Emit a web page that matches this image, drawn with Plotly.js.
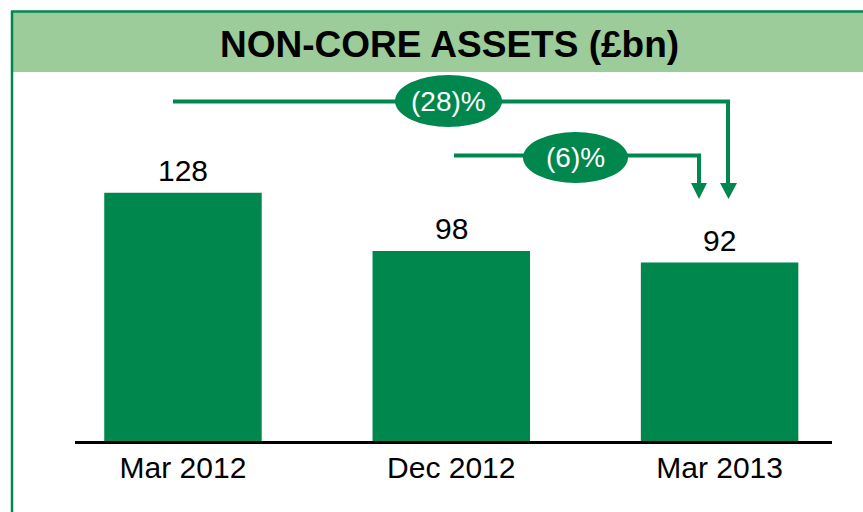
<!DOCTYPE html>
<html>
<head>
<meta charset="utf-8">
<script src="https://cdn.plot.ly/plotly-3.0.1.min.js"></script>
<style>
html,body{margin:0;padding:0;background:#fff;}
#chart{width:863px;height:512px;}
</style>
</head>
<body>
<div id="chart"></div>
<script>
const categories = ["Mar 2012", "Dec 2012", "Mar 2013"];
const values = [128, 98, 92];
const changeLabels = ["(28)%", "(6)%"];
const chartTitle = "NON-CORE ASSETS (£bn)";

const DARK = "#00874E";
const LIGHT = "#9ccc99";
const FONT = "Liberation Sans, Arial, sans-serif";

const W = 863, H = 512;
const L = 75, R = 31, T = 72, B = 71;
const pw = W - L - R, ph = H - T - B;
const px = v => (v - L) / pw;
const py = v => (H - B - v) / ph;

const shapes = [];
// title band
shapes.push({type:"rect", xref:"paper", yref:"paper", x0:px(12), x1:px(880), y0:py(72), y1:py(11),
  fillcolor:LIGHT, line:{width:0}, layer:"below"});
// border
shapes.push({type:"line", xref:"paper", yref:"paper", x0:px(12), x1:px(12), y0:py(11), y1:py(530),
  line:{color:DARK, width:2.5}});
shapes.push({type:"line", xref:"paper", yref:"paper", x0:px(11), x1:px(880), y0:py(11.5), y1:py(11.5),
  line:{color:DARK, width:2.5}});
// axis line
shapes.push({type:"line", xref:"paper", yref:"paper", x0:0, x1:1, y0:py(442.5), y1:py(442.5),
  line:{color:"#000", width:3}});

// (28)% connector
shapes.push({type:"path", xref:"paper", yref:"paper",
  path:`M ${px(173)} ${py(101.5)} L ${px(728)} ${py(101.5)} L ${px(728)} ${py(186)}`,
  line:{color:DARK, width:4}});
shapes.push({type:"path", xref:"paper", yref:"paper",
  path:`M ${px(720)} ${py(183)} L ${px(737)} ${py(183)} L ${px(728.5)} ${py(199)} Z`,
  fillcolor:DARK, line:{color:DARK, width:0}});
// (6)% connector
shapes.push({type:"path", xref:"paper", yref:"paper",
  path:`M ${px(454)} ${py(155.5)} L ${px(699)} ${py(155.5)} L ${px(699)} ${py(186)}`,
  line:{color:DARK, width:4}});
shapes.push({type:"path", xref:"paper", yref:"paper",
  path:`M ${px(691)} ${py(183)} L ${px(707)} ${py(183)} L ${px(699)} ${py(199)} Z`,
  fillcolor:DARK, line:{color:DARK, width:0}});
// ellipses
shapes.push({type:"circle", xref:"paper", yref:"paper", x0:px(395), x1:px(502), y0:py(127), y1:py(75),
  fillcolor:DARK, line:{width:0}});
shapes.push({type:"circle", xref:"paper", yref:"paper", x0:px(523), x1:px(628), y0:py(183), y1:py(132),
  fillcolor:DARK, line:{width:0}});

const annotations = [];
annotations.push({xref:"paper", yref:"paper", x:px(449), y:py(45), text:"<b>"+chartTitle+"</b>",
  showarrow:false, xanchor:"center", yanchor:"middle", font:{family:FONT, size:37, color:"#000"}});
annotations.push({xref:"paper", yref:"paper", x:px(448.5), y:py(101), text:changeLabels[0],
  showarrow:false, xanchor:"center", yanchor:"middle", font:{family:FONT, size:28, color:"#fff"}});
annotations.push({xref:"paper", yref:"paper", x:px(575.5), y:py(157.5), text:changeLabels[1],
  showarrow:false, xanchor:"center", yanchor:"middle", font:{family:FONT, size:28, color:"#fff"}});
categories.forEach((c, i) => {
  annotations.push({x:c, y:values[i], xref:"x", yref:"y", text:String(values[i]), showarrow:false,
    xanchor:"center", yanchor:"bottom", yshift:4, font:{family:FONT, size:30, color:"#000"}});
});

const data = [{
  type:"bar", x:categories, y:values,
  marker:{color:DARK, line:{width:0}},
  hoverinfo:"none"
}];

const layout = {
  width:W, height:H,
  margin:{l:L, r:R, t:T, b:B, pad:0},
  paper_bgcolor:"#fff", plot_bgcolor:"rgba(0,0,0,0)",
  showlegend:false,
  bargap:0.413,
  xaxis:{type:"category", range:[-0.4025, 2.419], showline:false, showgrid:false, zeroline:false,
    ticks:"", ticklabelstandoff:6, tickfont:{family:FONT, size:30, color:"#000"}, fixedrange:true},
  yaxis:{range:[0, ph/1.94], visible:false, fixedrange:true},
  shapes:shapes,
  annotations:annotations
};

Plotly.newPlot("chart", data, layout, {staticPlot:true, displayModeBar:false});
</script>
</body>
</html>
